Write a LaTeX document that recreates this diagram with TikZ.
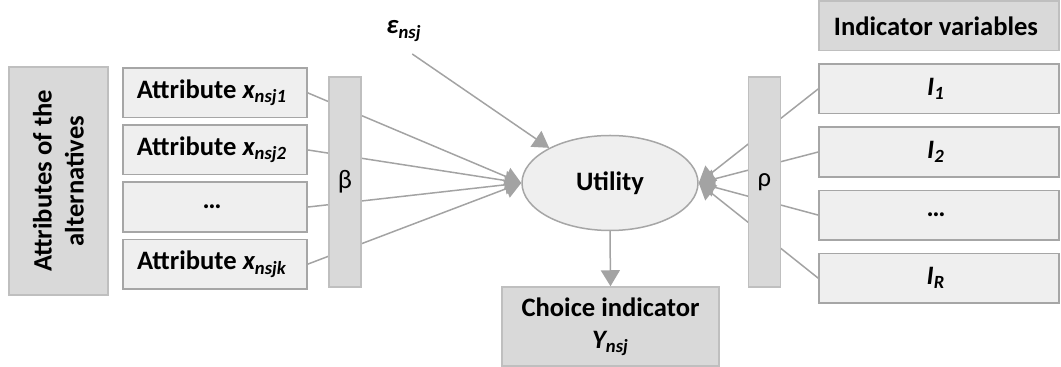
\documentclass[tikz,border=0pt]{standalone}
\usepackage{fontspec}
\setmainfont{Carlito}
\usetikzlibrary{positioning}
\usetikzlibrary{arrows.meta, shapes.geometric, backgrounds}
\usetikzlibrary{matrix}

\definecolor{boxfill}{HTML}{EFEFEF}
\definecolor{boxline}{HTML}{A6A6A6}
\definecolor{darkfill}{HTML}{D9D9D9}
\definecolor{darkline}{HTML}{BFBFBF}
\definecolor{linkgray}{HTML}{A3A3A3}

\newcommand{\diagfont}{\fontsize{13.3}{16}\selectfont}

\begin{document}
\begin{tikzpicture}[x=0.5pt,y=-0.5pt]

 \tikzset{lightbox/.style={
 		draw=boxline, fill=boxfill, line width=0.75pt,
 		font=\diagfont\bfseries, anchor=center, align=center, inner sep=0pt
 	},
 	darkbox/.style={
 		draw=darkline, fill=darkfill, line width=0.75pt,
 		font=\diagfont\bfseries, align=center, inner sep=0pt
 	},
 	column matrix/.style 2 args={
 		matrix of nodes,
 		row sep=#2,
 		nodes={lightbox, minimum width=#1, minimum height=24.8pt}
 	},
 	bar/.style={darkbox, font=\diagfont, minimum width=16pt, minimum height=105pt},
 	link/.style={draw=linkgray, line width=0.75pt, -{Triangle[length=8pt, width=9.5pt]}}
 }
 \useasboundingbox (0,0) rectangle (1061,367);

 % left side
 \node[darkbox, rotate=90, minimum width=114pt, minimum height=49.5pt] (group) at (58.5,181)
 	{Attributes of the\\alternatives};
 \matrix (attr) [column matrix={92pt}{3pt}] at (215,178.5)
 {
 	Attribute {\itshape x\textsubscript{nsj1}} \\
 	Attribute {\itshape x\textsubscript{nsj2}} \\
 	… \\
 	Attribute {\itshape x\textsubscript{nsjk}} \\
 };
 \node[bar] (beta) at (345,182) {β};

 % centre
 \node[ellipse, draw=boxline, fill=boxfill, line width=0.75pt, font=\diagfont\bfseries,
 	minimum width=88pt, minimum height=47.5pt] (util) at (610,183) {Utility};
 \node[font=\diagfont\bfseries\itshape] (eps) at (404,31) {ε\textsubscript{nsj}};
 \node[darkbox, minimum width=108.5pt, minimum height=39.5pt] (choice) at (610.5,326.5)
 	{Choice indicator\\{\itshape Y\textsubscript{nsj}}};

 % right side
 \node[bar] (rho) at (764.5,182) {ρ};
 \matrix (ind) [column matrix={120pt}{6pt}] at (939,152)
 {
 	|[darkbox]| Indicator variables \\
 	{\itshape I\textsubscript{1}} \\
 	{\itshape I\textsubscript{2}} \\
 	… \\
 	{\itshape I\textsubscript{R}} \\
 };

 \begin{scope}[on background layer]
 	\foreach \i in {1,...,4}
 		\draw[link] (attr-\i-1.east) -- (util.west);
 	\foreach \i in {2,...,5}
 		\draw[link] (ind-\i-1.west) -- (util.east);
 \end{scope}
 \draw[link, shorten <=5pt] (eps.south) -- (util.150);
 \draw[link] (util.south) -- (choice.north);
\end{tikzpicture}
\end{document}
